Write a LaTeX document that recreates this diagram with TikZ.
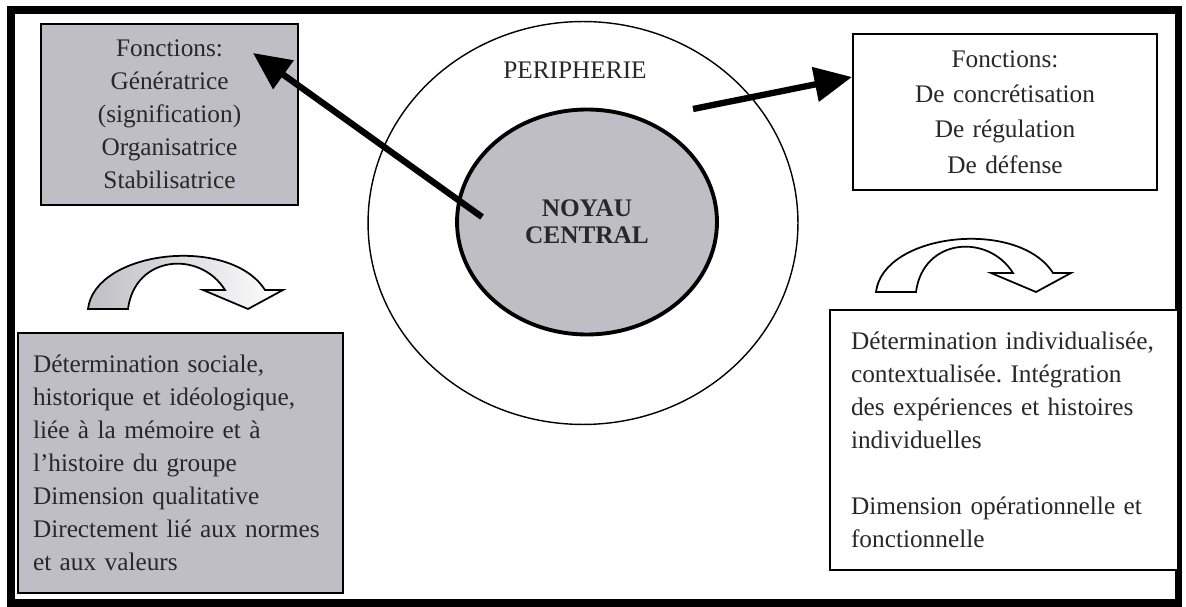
\documentclass[tikz,border=0pt]{standalone}
\usepackage{fontspec}
\setmainfont{Liberation Serif}
\frenchspacing
\usetikzlibrary{arrows.meta,shapes.geometric}
\definecolor{boxgray}{RGB}{190,190,196}
\definecolor{inkgray}{RGB}{40,40,40}
\tikzset{
  fctbox/.style={draw, line width=1.3pt, align=center, inner sep=0pt, text=inkgray},
  detbox/.style={draw, line width=1.5pt, align=left, inner sep=0pt, text=inkgray},
  thickarrow/.style={line width=3.6pt, -{Triangle[length=0.75cm,width=0.68cm]}},
  bendarrow/.style={draw, line width=1pt}
}
\begin{document}
\begin{tikzpicture}[x=0.02cm, y=-0.02cm, font=\fontsize{14.4}{18.8}\selectfont]
      \useasboundingbox (0,0) rectangle (1186,607);
      \draw[line width=4pt] (11,10) rectangle (1178,603);

      % the two circles
      \node[ellipse, draw, line width=0.8pt, minimum width=8.6cm, minimum height=8.06cm] (peri) at (583,223) {};
      \node[ellipse, draw, line width=2.2pt, fill=boxgray, minimum width=5.2cm, minimum height=4.5cm,
            align=center, text=inkgray, font=\fontsize{14.4}{15.5}\selectfont\bfseries] (noyau) at (587,222) {NOYAU\\CENTRAL};
      \node[text=inkgray] (periLabel) at (575,70) {PERIPHERIE};

      % boxes of functions
      \node[fctbox, fill=boxgray, minimum width=5.14cm, minimum height=3.62cm, text width=4.8cm] (noyauFct) at (169.5,114.5)
        {Fonctions:\\G\'en\'eratrice\\(signification)\\Organisatrice\\Stabilisatrice};
      \node[fctbox, fill=white, minimum width=6.08cm, minimum height=3.12cm, text width=5.8cm,
            font=\fontsize{14.4}{20.2}\selectfont] (periFct) at (1005,112)
        {Fonctions:\\De concr\'etisation\\De r\'egulation\\De d\'efense};

      \node[detbox, fill=boxgray, minimum width=6.5cm, minimum height=5.2cm, text width=5.9cm] (noyauDet) at (180.5,463)
        {D\'etermination sociale,\\historique et id\'eologique,\\li\'ee \`a la m\'emoire et \`a\\l'histoire du groupe\\Dimension qualitative\\Directement li\'e aux normes\\et aux valeurs};
      \node[detbox, fill=white, minimum width=6.96cm, minimum height=5.2cm, text width=6.12cm] (periDet) at (1004,440)
        {D\'etermination individualis\'ee,\\contextualis\'ee. Int\'egration\\des exp\'eriences et histoires\\individuelles\\[18.8pt]Dimension op\'erationnelle et\\fonctionnelle};

      % thick arrows out of the core
      \coordinate (leftStart) at (482,217);
      \coordinate (leftTip) at (253,53);
      \coordinate (rightStart) at (693,109);
      \coordinate (rightTip) at (852,77);
      \draw[thickarrow] (leftStart) -- (leftTip);
      \draw[thickarrow] (rightStart) -- (rightTip);

      % curved arrows
      \shadedraw[bendarrow, left color=boxgray, right color=white]
        (88,309) .. controls (95,250) and (230,235) .. (265,290) -- (283,290) -- (248,309)
        -- (203,290) -- (225,290) .. controls (200,250) and (135,255) .. (128,309) -- cycle;
      \begin{scope}[shift={(788,-17)}]
        \filldraw[bendarrow, fill=white]
          (88,309) .. controls (95,250) and (230,235) .. (265,290) -- (283,290) -- (248,309)
          -- (203,290) -- (225,290) .. controls (200,250) and (135,255) .. (128,309) -- cycle;
      \end{scope}
    \end{tikzpicture}
\end{document}
